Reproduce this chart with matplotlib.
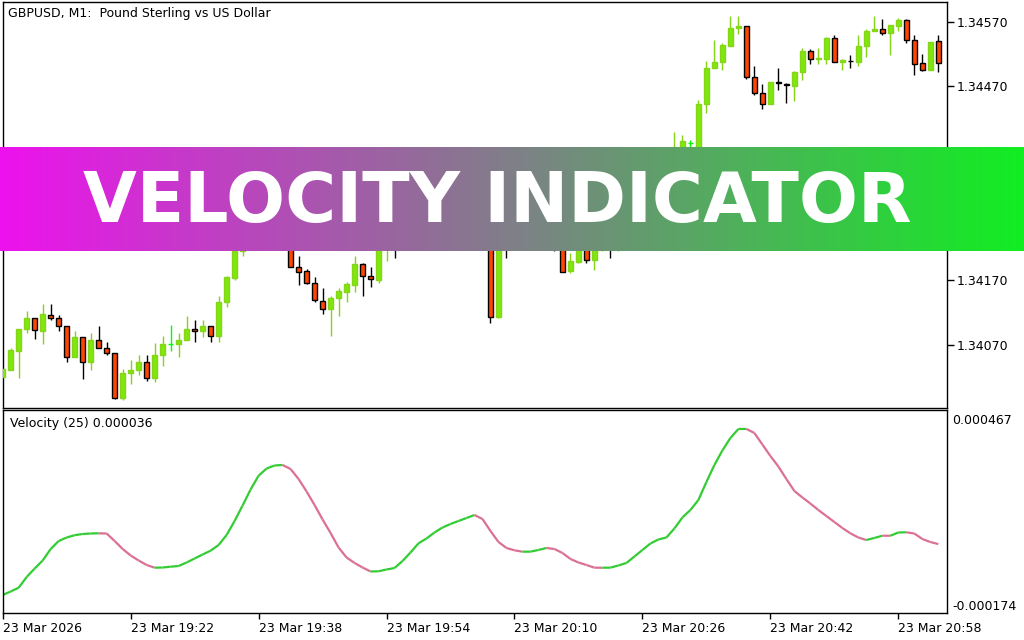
import numpy as np
import matplotlib
matplotlib.use('Agg')
import matplotlib.pyplot as plt
from matplotlib.collections import LineCollection

# GBPUSD M1 candles, 19:06 .. 21:03
opens = [1.34021, 1.34032, 1.34061, 1.34095, 1.34111, 1.34091, 1.34117, 1.34111, 1.34100, 1.34051,
         1.34082, 1.34043, 1.34078, 1.34066, 1.34057, 1.33988, 1.34026, 1.34031, 1.34043, 1.34019,
         1.34054, 1.34071, 1.34071, 1.34077, 1.34095, 1.34091, 1.34099, 1.34084, 1.34137, 1.34174,
         1.34215, 1.34250, 1.34275, 1.34262, 1.34290, 1.34300, 1.34250, 1.34190, 1.34184, 1.34166,
         1.34138, 1.34126, 1.34142, 1.34152, 1.34163, 1.34195, 1.34177, 1.34171, 1.34225, 1.34240,
         1.34222, 1.34238, 1.34252, 1.34246, 1.34262, 1.34275, 1.34266, 1.34283, 1.34292, 1.34285,
         1.34298, 1.34290, 1.34114, 1.34262, 1.34240, 1.34232, 1.34244, 1.34238, 1.34250, 1.34236,
         1.34222, 1.34185, 1.34199, 1.34225, 1.34201, 1.34222, 1.34230, 1.34220, 1.34238, 1.34255,
         1.34276, 1.34268, 1.34294, 1.34318, 1.34340, 1.34362, 1.34383, 1.34368, 1.34443, 1.34498,
         1.34508, 1.34533, 1.34560, 1.34564, 1.34484, 1.34459, 1.34443, 1.34477, 1.34473, 1.34471,
         1.34492, 1.34524, 1.34512, 1.34513, 1.34545, 1.34508, 1.34510, 1.34508, 1.34533, 1.34556,
         1.34559, 1.34552, 1.34564, 1.34573, 1.34542, 1.34506, 1.34495, 1.34540]
highs = [1.34034, 1.34065, 1.34095, 1.34123, 1.34111, 1.34133, 1.34133, 1.34117, 1.34100, 1.34092,
         1.34082, 1.34089, 1.34099, 1.34075, 1.34057, 1.34033, 1.34047, 1.34054, 1.34054, 1.34073,
         1.34084, 1.34101, 1.34089, 1.34115, 1.34109, 1.34109, 1.34099, 1.34146, 1.34177, 1.34220,
         1.34258, 1.34282, 1.34290, 1.34298, 1.34312, 1.34305, 1.34258, 1.34207, 1.34187, 1.34175,
         1.34158, 1.34145, 1.34158, 1.34167, 1.34208, 1.34197, 1.34190, 1.34232, 1.34252, 1.34248,
         1.34244, 1.34260, 1.34258, 1.34270, 1.34282, 1.34280, 1.34290, 1.34300, 1.34298, 1.34306,
         1.34302, 1.34295, 1.34268, 1.34270, 1.34250, 1.34250, 1.34252, 1.34258, 1.34255, 1.34240,
         1.34226, 1.34212, 1.34230, 1.34230, 1.34228, 1.34240, 1.34236, 1.34244, 1.34262, 1.34282,
         1.34284, 1.34300, 1.34325, 1.34348, 1.34399, 1.34395, 1.34387, 1.34449, 1.34510, 1.34542,
         1.34537, 1.34579, 1.34579, 1.34564, 1.34502, 1.34473, 1.34477, 1.34498, 1.34475, 1.34494,
         1.34530, 1.34528, 1.34529, 1.34547, 1.34550, 1.34512, 1.34519, 1.34550, 1.34559, 1.34579,
         1.34575, 1.34565, 1.34576, 1.34575, 1.34549, 1.34520, 1.34539, 1.34550]
lows = [1.34020, 1.34032, 1.34019, 1.34088, 1.34079, 1.34072, 1.34108, 1.34091, 1.34043, 1.34051,
        1.34018, 1.34032, 1.34066, 1.34054, 1.33987, 1.33985, 1.34009, 1.34024, 1.34015, 1.34013,
        1.34038, 1.34060, 1.34052, 1.34077, 1.34075, 1.34083, 1.34075, 1.34075, 1.34128, 1.34170,
        1.34208, 1.34241, 1.34255, 1.34258, 1.34280, 1.34245, 1.34190, 1.34163, 1.34165, 1.34137,
        1.34118, 1.34084, 1.34115, 1.34136, 1.34152, 1.34146, 1.34159, 1.34166, 1.34200, 1.34204,
        1.34218, 1.34232, 1.34240, 1.34242, 1.34256, 1.34260, 1.34262, 1.34278, 1.34280, 1.34280,
        1.34284, 1.34104, 1.34112, 1.34204, 1.34222, 1.34226, 1.34230, 1.34232, 1.34228, 1.34215,
        1.34183, 1.34181, 1.34197, 1.34197, 1.34186, 1.34215, 1.34204, 1.34215, 1.34232, 1.34250,
        1.34262, 1.34264, 1.34288, 1.34312, 1.34335, 1.34355, 1.34370, 1.34362, 1.34429, 1.34498,
        1.34495, 1.34532, 1.34551, 1.34482, 1.34456, 1.34435, 1.34443, 1.34464, 1.34444, 1.34447,
        1.34480, 1.34505, 1.34505, 1.34505, 1.34508, 1.34496, 1.34499, 1.34501, 1.34516, 1.34556,
        1.34550, 1.34518, 1.34555, 1.34537, 1.34488, 1.34494, 1.34495, 1.34493]
closes = [1.34033, 1.34062, 1.34095, 1.34111, 1.34093, 1.34118, 1.34111, 1.34100, 1.34051, 1.34082,
          1.34043, 1.34078, 1.34066, 1.34057, 1.33988, 1.34026, 1.34031, 1.34043, 1.34019, 1.34054,
          1.34072, 1.34071, 1.34078, 1.34095, 1.34091, 1.34099, 1.34084, 1.34137, 1.34175, 1.34215,
          1.34250, 1.34275, 1.34262, 1.34290, 1.34300, 1.34250, 1.34190, 1.34183, 1.34166, 1.34139,
          1.34126, 1.34142, 1.34153, 1.34164, 1.34195, 1.34177, 1.34172, 1.34225, 1.34240, 1.34222,
          1.34238, 1.34252, 1.34246, 1.34262, 1.34275, 1.34266, 1.34283, 1.34292, 1.34285, 1.34298,
          1.34290, 1.34114, 1.34262, 1.34240, 1.34232, 1.34244, 1.34238, 1.34250, 1.34236, 1.34222,
          1.34183, 1.34200, 1.34225, 1.34201, 1.34222, 1.34230, 1.34220, 1.34238, 1.34255, 1.34276,
          1.34268, 1.34294, 1.34318, 1.34340, 1.34362, 1.34386, 1.34383, 1.34443, 1.34498, 1.34508,
          1.34534, 1.34560, 1.34564, 1.34484, 1.34459, 1.34443, 1.34477, 1.34476, 1.34472, 1.34492,
          1.34524, 1.34512, 1.34514, 1.34545, 1.34508, 1.34511, 1.34509, 1.34533, 1.34556, 1.34558,
          1.34552, 1.34565, 1.34573, 1.34541, 1.34505, 1.34495, 1.34539, 1.34506]

# Velocity(25), in millionths
velocity = [-139.5, -127.4, -114.3, -77.5, -48.2, -20.6, 19.0, 46.6, 58.6, 66.6,
            70.7, 72.4, 73.1, 72.4, 46.6, 19.0, -3.4, -20.6, -36.1, -45.4,
            -44.8, -42.0, -39.6, -27.5, -13.7, 0.1, 13.2, 32.8, 67.3, 115.5,
            168.9, 224.1, 271.6, 296.4, 306.8, 308.5, 294.7, 260.2, 217.2, 170.6,
            120.7, 74.2, 24.2, -10.3, -29.2, -44.7, -58.5, -57.8, -51.6, -46.5,
            -22.3, 7.0, 38.7, 55.2, 75.9, 93.1, 105.2, 115.5, 125.8, 136.2,
            122.4, 81.0, 43.1, 22.5, 14.5, 9.7, 9.9, 15.6, 22.5, 19.0,
            5.2, -15.4, -27.5, -36.1, -45.4, -45.6, -45.2, -37.8, -29.2, -6.8,
            15.6, 38.0, 51.8, 58.6, 89.7, 127.6, 153.4, 187.9, 249.9, 308.5,
            358.5, 401.5, 432.5, 432.8, 418.8, 379.1, 339.5, 303.3, 260.2, 218.9,
            196.5, 175.8, 153.4, 132.7, 112.1, 91.4, 73.1, 58.6, 50.0, 56.9,
            64.8, 64.6, 75.9, 76.6, 72.4, 53.5, 43.1, 36.0]

time_ticks = [0, 16, 32, 48, 64, 80, 96, 112]
time_labels = ['23 Mar 2026', '23 Mar 19:22', '23 Mar 19:38', '23 Mar 19:54',
               '23 Mar 20:10', '23 Mar 20:26', '23 Mar 20:42', '23 Mar 20:58']
price_ticks = [1.34070, 1.34170, 1.34270, 1.34370, 1.34470, 1.34570]
vel_ticks = [467, -174]

o = np.array(opens)
h = np.array(highs)
l = np.array(lows)
c = np.array(closes)
v = np.array(velocity) * 1e-6
x = np.arange(len(o))

UP = '#7ee80c'
UP_EDGE = '#86d418'
DOWN = '#ff4500'
DOJI = '#00ff00'

fig = plt.figure(figsize=(10.24, 6.4), dpi=100)
fig.patch.set_facecolor('white')

ax = fig.add_axes([2.7 / 1024, 1 - 408.3 / 640, 944 / 1024, 406.6 / 640])
ax2 = fig.add_axes([2.7 / 1024, 1 - 613.3 / 640, 944 / 1024, 203.3 / 640], sharex=ax)

# candles
wick_col = []
body_col = []
edge_col = []
for i in range(len(o)):
    if c[i] > o[i]:
        wick_col.append(UP_EDGE); body_col.append(UP); edge_col.append(UP_EDGE)
    elif c[i] < o[i]:
        wick_col.append('black'); body_col.append(DOWN); edge_col.append('black')
    else:
        wick_col.append(DOJI); body_col.append(DOJI); edge_col.append(DOJI)

ax.vlines(x, l, h, colors=wick_col, linewidth=1.0, zorder=2)
ax.bar(x, np.abs(c - o), bottom=np.minimum(o, c), width=0.6, color=body_col,
       edgecolor=edge_col, linewidth=1.0, zorder=3)

ax.set_xlim(0.05, 118.05)
ax.set_ylim(1.33972, 1.34601)
ax.yaxis.tick_right()
ax.set_yticks(price_ticks)
ax.set_yticklabels(['%.5f' % p for p in price_ticks])
ax.tick_params(axis='y', direction='out', length=5, width=1, pad=2, labelsize=9)
ax.tick_params(axis='x', length=0, labelbottom=False)
ax.text(0.0056, 0.972, 'GBPUSD, M1:  Pound Sterling vs US Dollar', transform=ax.transAxes,
        fontsize=9, va='center', ha='left')

# velocity line, green when rising, pink when falling
pts = np.column_stack([x, v])
segs = np.stack([pts[:-1], pts[1:]], axis=1)
seg_cols = ['#32cd32' if v[i + 1] > v[i] else '#db7093' for i in range(len(v) - 1)]
ax2.add_collection(LineCollection(segs, colors=seg_cols, linewidths=1.6))
ax2.set_ylim(-202.6e-6, 498e-6)
ax2.yaxis.tick_right()
ax2.set_yticks([t * 1e-6 for t in vel_ticks])
ax2.set_yticklabels(['0.000467', '-0.000174'])
ax2.tick_params(axis='y', length=0, pad=4, labelsize=9)
ax2.set_xticks(time_ticks)
ax2.set_xticklabels(time_labels)
for lbl in ax2.get_xticklabels():
    lbl.set_horizontalalignment('left')
ax2.tick_params(axis='x', direction='out', length=4, width=1, pad=2, labelsize=9)
ax2.text(0.0077, 0.936, 'Velocity (25) %.6f' % v[-1], transform=ax2.transAxes,
         fontsize=9, va='center', ha='left')

for a in (ax, ax2):
    for s in a.spines.values():
        s.set_linewidth(1.0)
        s.set_color('black')

# banner
bx = fig.add_axes([0, 1 - 251 / 640, 1, 104.3 / 640], zorder=10)
left = np.array([238, 17, 238]) / 255
right = np.array([17, 238, 34]) / 255
t = np.linspace(0, 1, 512)[None, :, None]
grad = left[None, None, :] * (1 - t) + right[None, None, :] * t
bx.imshow(grad, aspect='auto', extent=[0, 1, 0, 1])
bx.set_xlim(0, 1)
bx.set_ylim(0, 1)
bx.axis('off')
bx.text(0.4854, 0.278, 'VELOCITY INDICATOR', color='white', fontsize=50,
        fontweight='bold', family='DejaVu Sans', ha='center', va='baseline')

fig.savefig('out.png', dpi=100)
